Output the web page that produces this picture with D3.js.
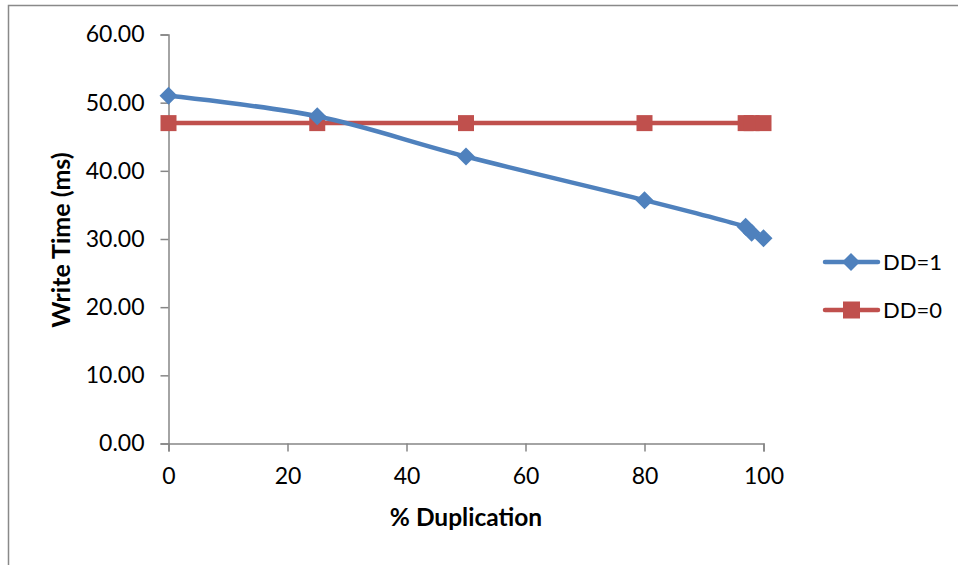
<!DOCTYPE html>
<html><head><meta charset="utf-8">
<script src="https://cdn.jsdelivr.net/npm/d3@7"></script>
<style>body{margin:0;background:#fff}svg{display:block}text{font-family:Lato,"Open Sans",sans-serif}</style>
</head><body><svg id="c" width="958" height="565"></svg>
<script>
const dd1X = [0, 25, 50, 80, 97, 98, 100];
const dd1Y = [51.0, 48.0, 42.1, 35.7, 31.8, 30.9, 30.1];
const dd0X = [0, 25, 50, 80, 97, 98, 100];
const dd0Y = [47.0, 47.0, 47.0, 47.0, 47.0, 47.0, 47.0];
const seriesNames = ["DD=1", "DD=0"];
const yTicks = [0, 10, 20, 30, 40, 50, 60];
const xTicks = [0, 20, 40, 60, 80, 100];
const xTitle = "% Duplication";
const yTitle = "Write Time (ms)";

const svg = d3.select("#c");
const blue = "#4F81BD", red = "#C0504D", axisC = "#868686";
svg.append("rect").attr("x",8.5).attr("y",5.5).attr("width",1000).attr("height",600)
  .attr("fill","none").attr("stroke","#898989").attr("stroke-width",1.5);

const x = d3.scaleLinear().domain([0,100]).range([168.5,763.5]);
const y = d3.scaleLinear().domain([0,60]).range([443.5,34.5]);

const yAx = svg.append("g").attr("transform","translate(168.5,0)")
  .call(d3.axisLeft(y).tickValues(yTicks).tickFormat(d3.format(".2f")).tickSize(8).tickPadding(16));
const xAx = svg.append("g").attr("transform","translate(0,443.5)")
  .call(d3.axisBottom(x).tickValues(xTicks).tickFormat(d3.format("d")).tickSize(8).tickPadding(16));
[yAx,xAx].forEach(a=>{
  a.select(".domain").attr("stroke",axisC).attr("stroke-width",1.5);
  a.selectAll(".tick line").attr("stroke",axisC).attr("stroke-width",1.5);
  a.selectAll(".tick text").attr("fill","#000").style("font-size","23px").style("font-family","Lato");
});
svg.append("text").attr("transform","translate(70,240) rotate(-90)").attr("text-anchor","middle")
  .style("font-size","25px").style("font-weight","bold").text(yTitle);
svg.append("text").attr("x",466).attr("y",526).attr("text-anchor","middle")
  .style("font-size","24.5px").style("font-weight","bold").text(xTitle);

const dd1 = dd1X.map((v,i)=>[v,dd1Y[i]]);
const dd0 = dd0X.map((v,i)=>[v,dd0Y[i]]);
const line = d3.line().x(d=>x(d[0])).y(d=>y(d[1])).curve(d3.curveCardinal.tension(0));
const diamond = s => `M0,${-s}L${s},0L0,${s}L${-s},0Z`;

svg.append("path").attr("d",line(dd0)).attr("fill","none").attr("stroke",red).attr("stroke-width",4.5);
svg.append("g").selectAll("rect").data(dd0).join("rect")
  .attr("x",d=>x(d[0])-8).attr("y",d=>y(d[1])-8).attr("width",16).attr("height",16).attr("fill",red);
svg.append("path").attr("d",line(dd1)).attr("fill","none").attr("stroke",blue).attr("stroke-width",4.5);
svg.append("g").selectAll("path").data(dd1).join("path")
  .attr("transform",d=>`translate(${x(d[0])},${y(d[1])})`).attr("d",diamond(9)).attr("fill",blue);

const leg = [{n:seriesNames[0],c:blue,m:"d",y:262},{n:seriesNames[1],c:red,m:"s",y:310}];
leg.forEach(l=>{
  svg.append("line").attr("x1",825).attr("x2",878).attr("y1",l.y).attr("y2",l.y)
    .attr("stroke",l.c).attr("stroke-width",4.5).attr("stroke-linecap","round");
  if(l.m==="d") svg.append("path").attr("transform",`translate(851,${l.y})`).attr("d",diamond(9)).attr("fill",l.c);
  else svg.append("rect").attr("x",843).attr("y",l.y-8.5).attr("width",17).attr("height",17).attr("fill",l.c);
  svg.append("text").attr("x",883).attr("y",l.y+8).style("font-size","22px").text(l.n);
});
</script></body></html>
